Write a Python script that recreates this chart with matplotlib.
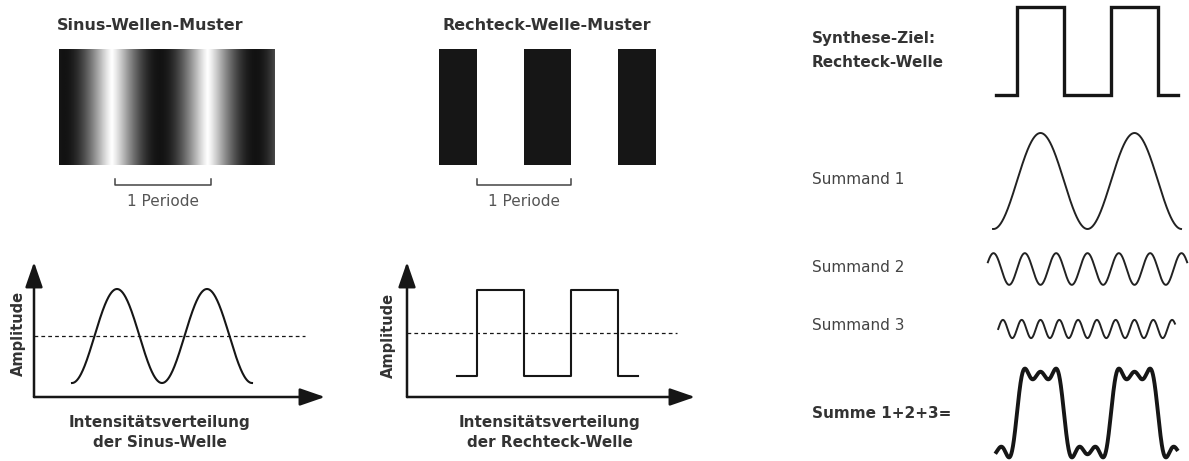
import numpy as np
import matplotlib.pyplot as plt

plt.rcParams['font.family'] = ['Liberation Sans Narrow', 'DejaVu Sans']

W, H = 1189, 461
fig = plt.figure(figsize=(W / 100, H / 100), dpi=100)
fig.patch.set_facecolor('white')

# --- data -------------------------------------------------------------
# stripe patterns (x in periods)
sin_span = 2.25          # periods shown in the sine pattern
sin_dark_phase = 0.05    # where the darkest stripe sits
sin_bracket = [0.58, 1.58]
rect_dark_start = [-0.40, 0.50, 1.50]
rect_dark_end = [0.00, 1.00, 1.90]
rect_bracket = [0.0, 1.0]

# intensity plots
sine_curve_range = [0.0, 2.0]
sine_dash_end = 2.59
rect_edges = [-0.21, 0.0, 0.5, 1.0, 1.5, 1.71]
rect_levels = [0, 1, 0, 1, 0, 0]
rect_dash_end = 2.13
mean_level = 0.5

# synthesis (right column)
target_edges = [-0.22, 0.0, 0.5, 1.0, 1.5, 1.71]
target_levels = [0, 1, 0, 1, 0, 0]
harmonics = [1, 3, 5]
harm_amp = [1.0, -0.33, 0.19]
harm_range = [(-0.255, 1.745), (-0.31, 1.81), (-0.20, 1.68)]
sum_range = (-0.22, 1.70)
center = 0.25  # middle of the first high part

INK = '#161616'


def panel(left, top, right, bottom, x0, sx, y0, sy):
    # axes placed by pixel box, data units given by origin + scale
    ax = fig.add_axes([left / W, 1 - bottom / H, (right - left) / W, (bottom - top) / H])
    ax.set_xlim((left - x0) / sx, (right - x0) / sx)
    ax.set_ylim((y0 - bottom) / sy, (y0 - top) / sy)
    ax.set_axis_off()
    return ax


def bracket(ax, a, b, label):
    yb, yt, ytxt = -20 / 116, -14 / 116, -36 / 116
    ax.plot([a, a, b, b], [yt, yb, yb, yt], color='#444444', lw=1.1, clip_on=False)
    ax.text((a + b) / 2, ytxt, label, ha='center', va='center', fontsize=11,
            color='#555555', clip_on=False)


def arrows(ax):
    x0, x1 = ax.get_xlim()
    y0, y1 = ax.get_ylim()
    style = dict(arrowstyle='-|>,head_length=1.1,head_width=0.38', lw=1.8,
                 color=INK, shrinkA=0, shrinkB=0, mutation_scale=14)
    ax.annotate('', xy=(x1, y0), xytext=(x0, y0), arrowprops=style, annotation_clip=False)
    ax.annotate('', xy=(x0, y1), xytext=(x0, y0), arrowprops=style, annotation_clip=False)


# --- sine stripe pattern ---------------------------------------------
ax = panel(59, 49, 275, 165, 59, 96, 165, 116)
u = np.linspace(0, sin_span, 600)
dark = (1 + np.cos(2 * np.pi * (u - sin_dark_phase))) / 2
ax.imshow((1 - dark ** 0.6)[None, :], extent=(0, sin_span, 0, 1), aspect='auto',
          cmap='gray', vmin=-0.08, vmax=1.0)
ax.set_xlim(0, sin_span)
bracket(ax, sin_bracket[0], sin_bracket[1], '1 Periode')
fig.text(57 / W, 1 - 25 / H, 'Sinus-Wellen-Muster', fontsize=11.5, weight='bold',
         color='#333333', va='center', ha='left')

# --- rectangle stripe pattern ----------------------------------------
ax = panel(430, 49, 665, 165, 477, 94, 165, 116)
widths = np.subtract(rect_dark_end, rect_dark_start)
ax.bar(rect_dark_start, 1, width=widths, align='edge', color=INK)
bracket(ax, rect_bracket[0], rect_bracket[1], '1 Periode')
fig.text(442 / W, 1 - 25 / H, 'Rechteck-Welle-Muster', fontsize=11.5, weight='bold',
         color='#333333', va='center', ha='left')

# --- intensity of the sine wave --------------------------------------
ax = panel(34, 262, 325, 397, 72, 90, 383, 94)
arrows(ax)
x = np.linspace(sine_curve_range[0], sine_curve_range[1], 400)
ax.plot(x, (1 - np.cos(2 * np.pi * x)) / 2, color=INK, lw=1.5, clip_on=False)
ax.plot([ax.get_xlim()[0], sine_dash_end], [mean_level] * 2, color=INK, lw=0.9,
        ls=(0, (3, 2.5)), clip_on=False)
fig.text(18 / W, 1 - 333 / H, 'Amplitude', rotation=90, fontsize=10.5, weight='bold',
         color='#333333', ha='center', va='center')
fig.text(160 / W, 1 - 422 / H, 'Intensitätsverteilung', fontsize=11, weight='bold',
         color='#333333', ha='center', va='center')
fig.text(160 / W, 1 - 442 / H, 'der Sinus-Welle', fontsize=11, weight='bold',
         color='#333333', ha='center', va='center')

# --- intensity of the rectangle wave ---------------------------------
ax = panel(407, 262, 695, 397, 477, 94, 376, 86)
arrows(ax)
ax.step(rect_edges, rect_levels, where='post', color=INK, lw=1.5, clip_on=False)
ax.plot([ax.get_xlim()[0], rect_dash_end], [mean_level] * 2, color=INK, lw=0.9,
        ls=(0, (3, 2.5)), clip_on=False)
fig.text(388 / W, 1 - 335 / H, 'Amplitude', rotation=90, fontsize=10.5, weight='bold',
         color='#333333', ha='center', va='center')
fig.text(550 / W, 1 - 422 / H, 'Intensitätsverteilung', fontsize=11, weight='bold',
         color='#333333', ha='center', va='center')
fig.text(550 / W, 1 - 442 / H, 'der Rechteck-Welle', fontsize=11, weight='bold',
         color='#333333', ha='center', va='center')

# --- synthesis column -------------------------------------------------
ax = panel(980, 0, 1189, 105, 1017, 94, 95, 88)
ax.step(target_edges, target_levels, where='post', color=INK, lw=2.4,
        clip_on=False, solid_joinstyle='miter')

rows = [(125, 237, 181), (245, 293, 269), (315, 343, 329)]
for (top, bottom, mid), k, a, (lo, hi) in zip(rows, harmonics, harm_amp, harm_range):
    ax = panel(980, top, 1189, bottom, 1017, 94, mid, 48)
    x = np.linspace(lo, hi, 800)
    ax.plot(x, a * np.cos(2 * np.pi * k * (x - center)), color='#222222', lw=1.4,
            clip_on=False)

ax = panel(980, 362, 1189, 461, 1017, 94, 413, 48)
x = np.linspace(sum_range[0], sum_range[1], 1000)
total = np.zeros_like(x)
for k, a in zip(harmonics, harm_amp):
    total += a * np.cos(2 * np.pi * k * (x - center))
ax.plot(x, total, color=INK, lw=2.8, clip_on=False)

fig.text(812 / W, 1 - 38 / H, 'Synthese-Ziel:', fontsize=11, weight='bold',
         color='#333333', va='center')
fig.text(812 / W, 1 - 62 / H, 'Rechteck-Welle', fontsize=11, weight='bold',
         color='#333333', va='center')
for label, y in [('Summand 1', 180), ('Summand 2', 267), ('Summand 3', 325)]:
    fig.text(812 / W, 1 - y / H, label, fontsize=11, color='#444444', va='center')
fig.text(812 / W, 1 - 413 / H, 'Summe 1+2+3=', fontsize=11, weight='bold',
         color='#333333', va='center')

fig.savefig('out.png', dpi=100, facecolor='white')
